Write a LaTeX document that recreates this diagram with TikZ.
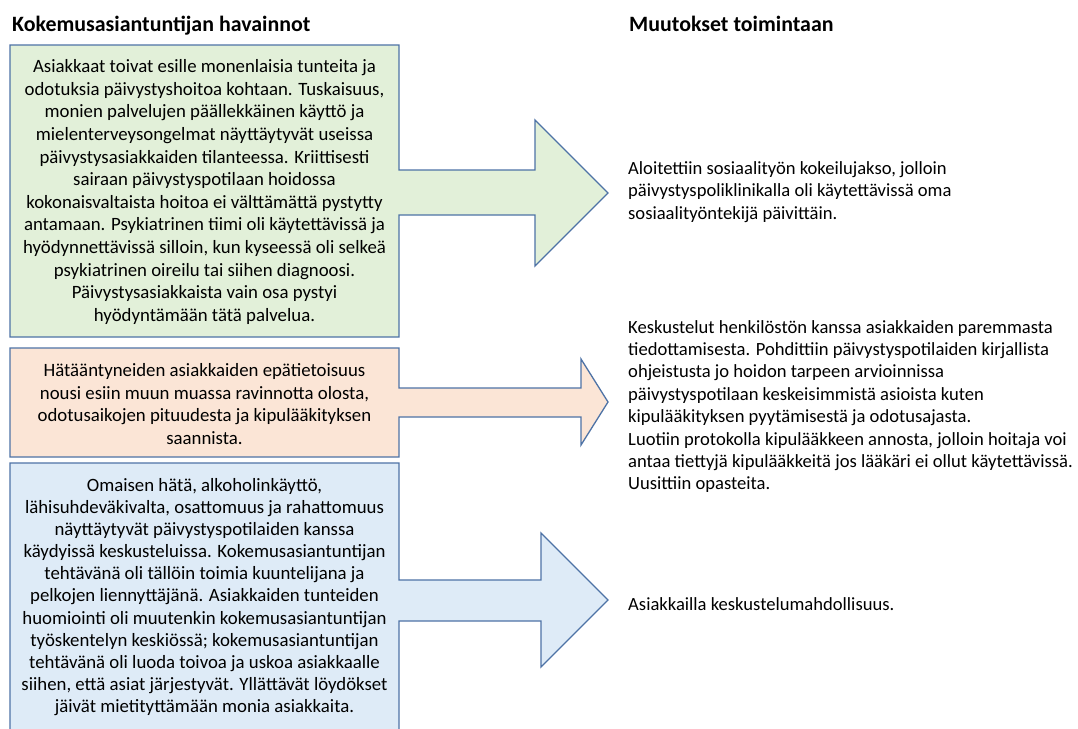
\documentclass[tikz,border=0pt]{standalone}
\usepackage{fontspec}
\setmainfont{Carlito}
\begin{document}
\begin{tikzpicture}[x=1pt,y=-1pt,
  callout/.style={draw=edgeblue,line width=1.3pt,line join=miter},
  boxtext/.style={align=center,inner sep=0pt,font=\fontsize{18.8}{22.6}\selectfont},
  tighttext/.style={align=center,inner sep=0pt,font=\fontsize{18.8}{22.1}\selectfont},
  sidetext/.style={align=left,anchor=west,inner sep=0pt,font=\fontsize{18.6}{22.4}\selectfont},
  heading/.style={anchor=base west,inner sep=0pt,font=\fontsize{21.9}{26}\selectfont\bfseries}]
\definecolor{edgeblue}{HTML}{4E73A6}
\definecolor{greenfill}{HTML}{E2F0D9}
\definecolor{orangefill}{HTML}{FBE5D6}
\definecolor{bluefill}{HTML}{DEEBF7}
\useasboundingbox (0,0) rectangle (1078,728);
\clip (0,0) rectangle (1078,728);
\fill[white] (0,0) rectangle (1078,728);

% column headings
\node[heading] (headL) at (12,31) {Kokemusasiantuntijan havainnot};
\node[heading] (headR) at (629,31) {Muutokset toimintaan};

% observation boxes with their arrows
\draw[callout,fill=greenfill] (10,45) -- (399,45) -- (399,170) -- (535,170) -- (535,120)
  -- (608,193) -- (535,266) -- (535,215) -- (399,215) -- (399,337) -- (10,337) -- cycle;
\draw[callout,fill=orangefill] (10,348) -- (399,348) -- (399,388) -- (581,388) -- (581,359)
  -- (608,402) -- (581,445) -- (581,417) -- (399,417) -- (399,457) -- (10,457) -- cycle;
\draw[callout,fill=bluefill] (10,463) -- (399,463) -- (399,580) -- (541,580) -- (541,533)
  -- (608,600) -- (541,667) -- (541,621) -- (399,621) -- (399,740) -- (10,740) -- cycle;

\node[boxtext] (obs1) at (204.5,192) {Asiakkaat toivat esille monenlaisia tunteita ja\\
odotuksia päivystyshoitoa kohtaan. Tuskaisuus,\\
monien palvelujen päällekkäinen käyttö ja\\
mielenterveysongelmat näyttäytyvät useissa\\
päivystysasiakkaiden tilanteessa. Kriittisesti\\
sairaan päivystyspotilaan hoidossa\\
kokonaisvaltaista hoitoa ei välttämättä pystytty\\
antamaan. Psykiatrinen tiimi oli käytettävissä ja\\
hyödynnettävissä silloin, kun kyseessä oli selkeä\\
psykiatrinen oireilu tai siihen diagnoosi.\\
Päivystysasiakkaista vain osa pystyi\\
hyödyntämään tätä palvelua.};

\node[boxtext] (obs2) at (204.5,404) {Hätääntyneiden asiakkaiden epätietoisuus\\
nousi esiin muun muassa ravinnotta olosta,\\
odotusaikojen pituudesta ja kipulääkityksen\\
saannista.};

\node[tighttext] (obs3) at (204.5,597) {Omaisen hätä, alkoholinkäyttö,\\
lähisuhdeväkivalta, osattomuus ja rahattomuus\\
näyttäytyvät päivystyspotilaiden kanssa\\
käydyissä keskusteluissa. Kokemusasiantuntijan\\
tehtävänä oli tällöin toimia kuuntelijana ja\\
pelkojen liennyttäjänä. Asiakkaiden tunteiden\\
huomiointi oli muutenkin kokemusasiantuntijan\\
työskentelyn keskiössä; kokemusasiantuntijan\\
tehtävänä oli luoda toivoa ja uskoa asiakkaalle\\
siihen, että asiat järjestyvät. Yllättävät löydökset\\
jäivät mietityttämään monia asiakkaita.};

% resulting changes
\node[sidetext] (chg1) at (628,192) {Aloitettiin sosiaalityön kokeilujakso, jolloin\\
päivystyspoliklinikalla oli käytettävissä oma\\
sosiaalityöntekijä päivittäin.};

\node[sidetext] (chg2) at (628,406.5) {Keskustelut henkilöstön kanssa asiakkaiden paremmasta\\
tiedottamisesta. Pohdittiin päivystyspotilaiden kirjallista\\
ohjeistusta jo hoidon tarpeen arvioinnissa\\
päivystyspotilaan keskeisimmistä asioista kuten\\
kipulääkityksen pyytämisestä ja odotusajasta.\\
Luotiin protokolla kipulääkkeen annosta, jolloin hoitaja voi\\
antaa tiettyjä kipulääkkeitä jos lääkäri ei ollut käytettävissä.\\
Uusittiin opasteita.};

\node[sidetext] (chg3) at (628,604) {Asiakkailla keskustelumahdollisuus.};
\end{tikzpicture}
\end{document}
